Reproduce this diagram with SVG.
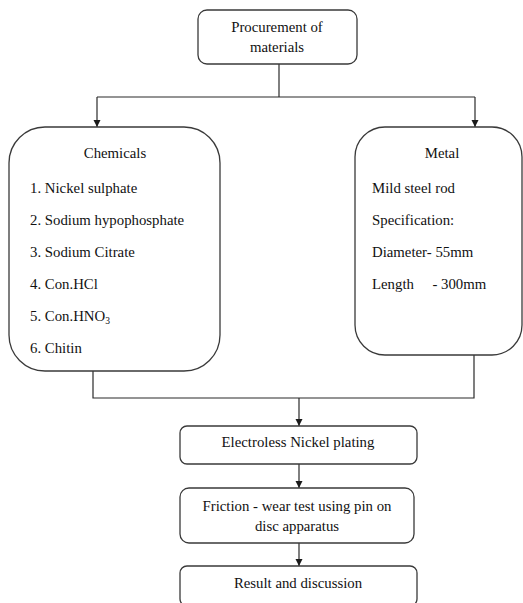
<svg xmlns="http://www.w3.org/2000/svg" width="523" height="603" viewBox="0 0 523 603">
<style>
.box{fill:#fff;stroke:#3a3a3a;stroke-width:1.3}
.ln{fill:none;stroke:#2a2a2a;stroke-width:1.2}
text{font-family:'Liberation Serif','Times New Roman','DejaVu Serif',serif;font-size:14.8px;fill:#111}
.c{text-anchor:middle}
</style>
<defs>
<marker id="ah" markerWidth="8" markerHeight="8" refX="7" refY="4" orient="auto" markerUnits="userSpaceOnUse">
<path d="M0,0.5 L7,4 L0,7.5 Z" fill="#1a1a1a"/>
</marker>
</defs>
<g id="connectors">
<path class="ln" d="M279,64 V97"/>
<path class="ln" d="M97,97 H475"/>
<path class="ln" d="M97,97 V127" marker-end="url(#ah)"/>
<path class="ln" d="M475,97 V127" marker-end="url(#ah)"/>
<path class="ln" d="M93,371 V398 H474 V355"/>
<path class="ln" d="M299,398 V426" marker-end="url(#ah)"/>
<path class="ln" d="M299,464 V488" marker-end="url(#ah)"/>
<path class="ln" d="M299,543 V566" marker-end="url(#ah)"/>
</g>
<g id="procurement">
<rect class="box" x="198" y="10" width="159" height="54" rx="9"/>
<text class="c" x="277" y="32">Procurement of</text>
<text class="c" x="277" y="52">materials</text>
</g>
<g id="chemicals">
<rect class="box" x="9" y="127" width="211" height="244" rx="36"/>
<text class="c" x="115" y="158">Chemicals</text>
<text x="30" y="193">1. Nickel sulphate</text>
<text x="30" y="225">2. Sodium hypophosphate</text>
<text x="30" y="257">3. Sodium Citrate</text>
<text x="30" y="289">4. Con.HCl</text>
<text x="30" y="321">5. Con.HNO<tspan font-size="9.5" dy="3">3</tspan></text>
<text x="30" y="353">6. Chitin</text>
</g>
<g id="metal">
<rect class="box" x="355" y="127" width="167" height="228" rx="30"/>
<text class="c" x="442" y="158">Metal</text>
<text x="372" y="193">Mild steel rod</text>
<text x="372" y="225">Specification:</text>
<text x="372" y="257">Diameter- 55mm</text>
<text x="372" y="289" xml:space="preserve">Length     - 300mm</text>
</g>
<g id="electroless">
<rect class="box" x="180" y="426" width="237" height="38" rx="7"/>
<text class="c" x="298" y="447">Electroless Nickel plating</text>
</g>
<g id="friction">
<rect class="box" x="180" y="488" width="234" height="55" rx="9"/>
<text class="c" x="297" y="511">Friction - wear test using pin on</text>
<text class="c" x="297" y="531">disc apparatus</text>
</g>
<g id="result">
<rect class="box" x="180" y="566" width="237" height="40" rx="7"/>
<text class="c" x="298" y="588">Result and discussion</text>
</g>
</svg>
